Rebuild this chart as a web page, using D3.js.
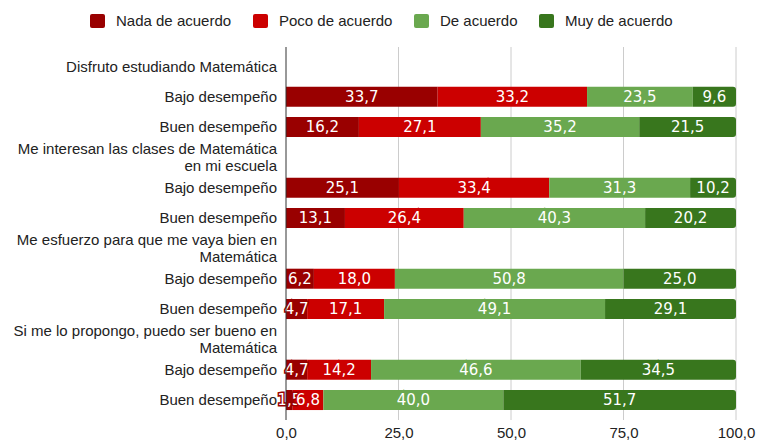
<!DOCTYPE html>
<html>
<head>
<meta charset="utf-8">
<script src="https://cdn.jsdelivr.net/npm/d3@7"></script>
<style>
  body { margin: 0; background: #fff; }
  svg { display: block; }
</style>
</head>
<body>
<svg id="chart"></svg>
<script>
// data
const series = ['Nada de acuerdo', 'Poco de acuerdo', 'De acuerdo', 'Muy de acuerdo'];
const colors = ['#990000', '#cc0000', '#6aa84f', '#38761d'];
const groups = [
  'Disfruto estudiando Matemática',
  'Me interesan las clases de Matemática\nen mi escuela',
  'Me esfuerzo para que me vaya bien en\nMatemática',
  'Si me lo propongo, puedo ser bueno en\nMatemática'
];
const levels = ['Bajo desempeño', 'Buen desempeño'];
// one value per data row, in order group1 bajo, group1 buen, group2 bajo ...
const nada = [33.7, 16.2, 25.1, 13.1, 6.2, 4.7, 4.7, 1.5];
const poco = [33.2, 27.1, 33.4, 26.4, 18.0, 17.1, 14.2, 6.8];
const deAcuerdo = [23.5, 35.2, 31.3, 40.3, 50.8, 49.1, 46.6, 40.0];
const muy = [9.6, 21.5, 10.2, 20.2, 25.0, 29.1, 34.5, 51.7];
const xTicks = [0, 25, 50, 75, 100];

const width = 766, height = 444;
const labelFont = 'Liberation Sans, Arial, sans-serif';
const svg = d3.select('#chart').attr('width', width).attr('height', height);

// build rows: header row, then the two performance rows
const rows = [];
let k = 0;
groups.forEach(g => {
  rows.push({ label: g, values: null });
  levels.forEach(l => {
    rows.push({ label: l, values: [nada[k], poco[k], deAcuerdo[k], muy[k]] });
    k++;
  });
});

const x = d3.scaleLinear().domain([0, 100]).range([286, 736]);
const y = d3.scaleBand()
  .domain(d3.range(rows.length))
  .range([51.2, 415.2])
  .paddingInner(0.34)
  .paddingOuter(0.17);

const locale = d3.formatLocale({ decimal: ',', thousands: '.', grouping: [3], currency: ['', ''] });
const fmt = locale.format('.1f');

// gridlines
svg.append('g').selectAll('line')
  .data(xTicks.slice(1))
  .join('line')
  .attr('x1', d => x(d)).attr('x2', d => x(d))
  .attr('y1', 47).attr('y2', 420)
  .attr('stroke', '#cccccc');

// x axis labels
const xAxis = d3.axisBottom(x).tickValues(xTicks).tickFormat(fmt).tickSize(0).tickPadding(0);
svg.append('g')
  .attr('transform', 'translate(0,427)')
  .call(xAxis)
  .call(g => g.select('.domain').remove())
  .selectAll('text')
  .attr('font-family', labelFont)
  .attr('font-size', 15)
  .attr('fill', '#222')
  .attr('dy', '0.71em');

// stacked segments
const stack = d3.stack().keys(d3.range(4)).value((d, key) => d.values[key]);
const dataRows = rows.map((r, i) => ({ i, values: r.values })).filter(r => r.values);
const stacked = stack(dataRows);

function segPath(x0, x1, y0, h, last) {
  const r = last ? 3 : 0;
  return `M${x0},${y0}H${x1 - r}` +
    (r ? `Q${x1},${y0} ${x1},${y0 + r}V${y0 + h - r}Q${x1},${y0 + h} ${x1 - r},${y0 + h}` : `V${y0 + h}`) +
    `H${x0}Z`;
}

const layers = svg.append('g').selectAll('g')
  .data(stacked)
  .join('g')
  .attr('fill', (d, s) => colors[s]);

layers.selectAll('path')
  .data((d, s) => d.map(p => ({ p, s })))
  .join('path')
  .attr('d', ({ p, s }) => segPath(x(p[0]), x(p[1]), y(p.data.i), y.bandwidth(), s === 3));

// value labels, drawn in order so later ones sit on top
const labels = svg.append('g')
  .attr('font-family', 'DejaVu Sans, sans-serif')
  .attr('font-size', 15)
  .attr('text-anchor', 'middle');

dataRows.forEach((r, ri) => {
  stacked.forEach((layer, s) => {
    const p = layer[ri];
    labels.append('text')
      .attr('x', (x(p[0]) + x(p[1])) / 2)
      .attr('y', y(r.i) + y.bandwidth() / 2)
      .attr('dy', '0.36em')
      .attr('fill', '#fff')
      .attr('stroke', colors[s])
      .attr('stroke-width', 3)
      .attr('paint-order', 'stroke')
      .text(fmt(r.values[s]));
  });
});

// zero axis line
svg.append('line')
  .attr('x1', x(0)).attr('x2', x(0))
  .attr('y1', 47).attr('y2', 420)
  .attr('stroke', '#333');

// category labels
const cat = svg.append('g')
  .attr('font-family', labelFont)
  .attr('font-size', 15)
  .attr('fill', '#222')
  .attr('text-anchor', 'end');

rows.forEach((r, i) => {
  const lines = r.label.split('\n');
  const cy = y(i) + y.bandwidth() / 2;
  const t = cat.append('text').attr('x', 277);
  lines.forEach((ln, j) => {
    t.append('tspan')
      .attr('x', 277)
      .attr('y', cy + (j - (lines.length - 1) / 2) * 16.5)
      .attr('dy', '0.35em')
      .text(ln);
  });
});

// legend
const legendX = [90, 253, 414, 539];
const legend = svg.append('g').selectAll('g')
  .data(series)
  .join('g')
  .attr('transform', (d, i) => `translate(${legendX[i]},21)`);

legend.append('rect')
  .attr('x', 0).attr('y', -7)
  .attr('width', 15).attr('height', 14)
  .attr('rx', 2)
  .attr('fill', (d, i) => colors[i]);

legend.append('text')
  .attr('x', 26)
  .attr('dy', '0.35em')
  .attr('font-family', labelFont)
  .attr('font-size', 15)
  .attr('fill', '#222')
  .text(d => d);
</script>
</body>
</html>
